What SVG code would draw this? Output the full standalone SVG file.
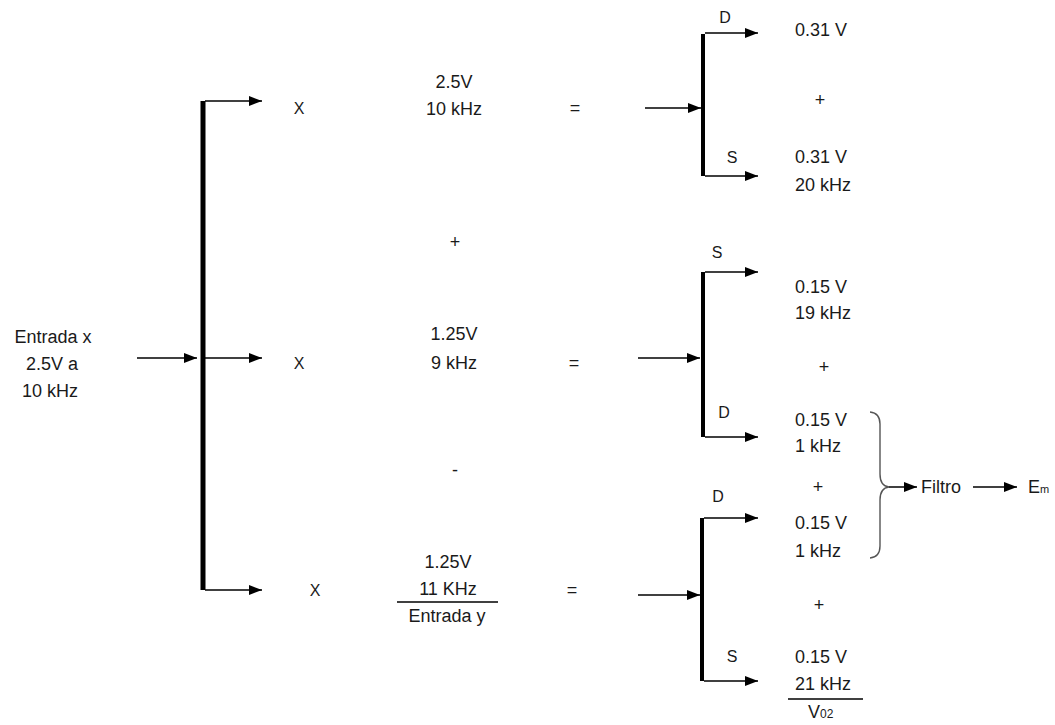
<svg xmlns="http://www.w3.org/2000/svg" width="1055" height="725" viewBox="0 0 1055 725">
<style>
text{font-family:"Liberation Sans",Arial,sans-serif;font-size:18px;fill:#1a1a1a}
.c{text-anchor:middle}
.sm{font-size:16px}
.ln{stroke:#000;stroke-width:1.5;fill:none}
.bar{stroke:#000;stroke-width:5;fill:none}
.bar2{stroke:#000;stroke-width:4;fill:none}
.a{marker-end:url(#ah)}
</style>
<defs>
<marker id="ah" markerUnits="userSpaceOnUse" markerWidth="14" markerHeight="11" refX="13" refY="5" orient="auto">
<path d="M0,0 L13,5 L0,10 z" fill="#000"/>
</marker>
</defs>
<g id="connectors">
<path class="bar" d="M203,101 V590"/>
<path class="ln a" d="M205,101 H262"/>
<path class="ln a" d="M205,358 H262"/>
<path class="ln a" d="M205,590 H262"/>
<path class="ln a" d="M137,358 H197"/>
<path class="bar2" d="M703,34 V176"/>
<path class="ln a" d="M705,33 H758"/>
<path class="ln a" d="M705,176 H758"/>
<path class="ln a" d="M645,108 H701"/>
<path class="bar2" d="M703,272 V437"/>
<path class="ln a" d="M705,272 H758"/>
<path class="ln a" d="M705,437 H758"/>
<path class="ln a" d="M638,358 H700"/>
<path class="bar2" d="M702,518 V681"/>
<path class="ln a" d="M704,518 H758"/>
<path class="ln a" d="M704,681 H758"/>
<path class="ln a" d="M638,595 H700"/>
<path d="M870,412 Q880,413 880,424 V474 Q880,486 889,487 Q880,488 880,500 V546 Q880,557 870,558" stroke="#555" stroke-width="1.4" fill="none"/>
<path class="ln a" d="M889,487 H917"/>
<path class="ln a" d="M973,487 H1017"/>
<path class="ln" d="M397,602 H498" stroke-width="1.2"/>
<path class="ln" d="M788,699 H863" stroke-width="1.2"/>
</g>
<g id="input-x" font-size="19"><text class="c" x="53" y="343" font-size="19">Entrada x</text><text class="c" x="52" y="370" font-size="19">2.5V a</text><text class="c" x="50" y="397" font-size="19">10 kHz</text></g>
<g id="row1"><text class="c sm" x="299" y="114">X</text><text class="c" x="454" y="88">2.5V</text><text class="c" x="454" y="115">10 kHz</text><text class="c" x="575" y="114">=</text></g>
<g id="op1"><text class="c" x="455" y="248">+</text></g>
<g id="row2"><text class="c sm" x="299" y="369">X</text><text class="c" x="454" y="340">1.25V</text><text class="c" x="454" y="369">9 kHz</text><text class="c" x="574" y="369">=</text></g>
<g id="op2"><text class="c" x="455" y="476">-</text></g>
<g id="row3"><text class="c sm" x="315" y="596">X</text><text class="c" x="448" y="568">1.25V</text><text class="c" x="448" y="595">11 KHz</text><text class="c" x="447" y="622">Entrada y</text><text class="c" x="572" y="596">=</text></g>
<g id="out1"><text class="c sm" x="725" y="23">D</text><text x="795" y="36">0.31 V</text><text class="c" x="820" y="106">+</text><text class="c sm" x="732" y="163">S</text><text x="795" y="163">0.31 V</text><text x="795" y="191">20 kHz</text></g>
<g id="out2"><text class="c sm" x="717" y="258">S</text><text x="795" y="293">0.15 V</text><text x="795" y="319">19 kHz</text><text class="c" x="824" y="373">+</text><text class="c sm" x="724" y="418">D</text><text x="795" y="426">0.15 V</text><text x="795" y="452">1 kHz</text></g>
<g id="out3"><text class="c" x="818" y="493">+</text><text class="c sm" x="718" y="502">D</text><text x="795" y="529">0.15 V</text><text x="795" y="557">1 kHz</text><text class="c" x="819" y="611">+</text><text class="c sm" x="732" y="662">S</text><text x="795" y="663">0.15 V</text><text x="795" y="690">21 kHz</text><text x="808" y="718">V<tspan font-size="12">02</tspan></text></g>
<g id="filtro"><text x="921" y="493" font-size="19">Filtro</text></g>
<g id="em"><text x="1028" y="493" font-size="16">E<tspan font-size="11">m</tspan></text></g>
</svg>
